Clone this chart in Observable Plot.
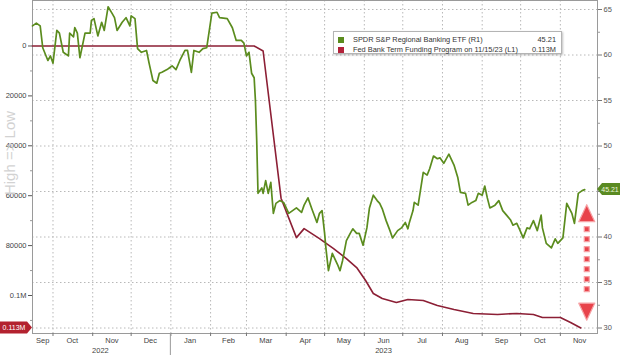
<!DOCTYPE html>
<html><head><meta charset="utf-8">
<script src="https://cdn.jsdelivr.net/npm/d3@7"></script>
<script src="https://cdn.jsdelivr.net/npm/@observablehq/plot@0.6"></script>
<style>
body{margin:0;background:#fff;}
#wrap{position:relative;width:620px;height:355px;font-family:"Liberation Sans",Arial,sans-serif;}
#legend{position:absolute;left:333px;top:31px;width:229px;height:23px;box-sizing:border-box;border:1px solid #b4b4b4;background:#fff;box-shadow:1px 1px 2px rgba(0,0,0,.25);font-size:7.4px;color:#333;}
.row{position:absolute;left:4px;right:5px;height:10px;line-height:10px;white-space:nowrap;}
.sw{position:absolute;left:0;top:2px;width:6px;height:6px;}
.lab{position:absolute;left:15px;}
.val{position:absolute;right:0;}
</style></head>
<body><div id="wrap"></div>
<script>
// ---- data ----
const kreDates = ["2022-09-15","2022-09-18","2022-09-21","2022-09-23","2022-09-27","2022-09-29","2022-10-01","2022-10-04","2022-10-06","2022-10-09","2022-10-13","2022-10-14","2022-10-17","2022-10-18","2022-10-20","2022-10-22","2022-10-26","2022-10-30","2022-10-31","2022-11-02","2022-11-05","2022-11-08","2022-11-10","2022-11-13","2022-11-16","2022-11-18","2022-11-20","2022-11-24","2022-11-27","2022-11-30","2022-12-01","2022-12-04","2022-12-06","2022-12-09","2022-12-13","2022-12-15","2022-12-18","2022-12-21","2022-12-23","2022-12-25","2022-12-29","2022-12-31","2023-01-02","2023-01-05","2023-01-08","2023-01-12","2023-01-14","2023-01-17","2023-01-19","2023-01-23","2023-01-26","2023-01-29","2023-02-02","2023-02-06","2023-02-08","2023-02-14","2023-02-18","2023-02-21","2023-02-25","2023-02-27","2023-03-01","2023-03-03","2023-03-05","2023-03-07","2023-03-08","2023-03-09","2023-03-10","2023-03-13","2023-03-14","2023-03-16","2023-03-18","2023-03-20","2023-03-22","2023-03-24","2023-03-27","2023-03-30","2023-04-03","2023-04-06","2023-04-09","2023-04-13","2023-04-15","2023-04-18","2023-04-21","2023-04-25","2023-04-27","2023-04-29","2023-05-01","2023-05-02","2023-05-04","2023-05-07","2023-05-11","2023-05-13","2023-05-15","2023-05-18","2023-05-21","2023-05-23","2023-05-26","2023-05-28","2023-05-31","2023-06-03","2023-06-05","2023-06-08","2023-06-11","2023-06-13","2023-06-15","2023-06-18","2023-06-21","2023-06-23","2023-06-27","2023-06-30","2023-07-03","2023-07-05","2023-07-06","2023-07-09","2023-07-10","2023-07-13","2023-07-17","2023-07-20","2023-07-22","2023-07-25","2023-07-28","2023-07-30","2023-08-02","2023-08-06","2023-08-10","2023-08-13","2023-08-15","2023-08-19","2023-08-21","2023-08-24","2023-08-27","2023-08-29","2023-09-01","2023-09-03","2023-09-05","2023-09-07","2023-09-11","2023-09-14","2023-09-17","2023-09-20","2023-09-23","2023-09-25","2023-09-28","2023-09-30","2023-10-03","2023-10-06","2023-10-08","2023-10-11","2023-10-14","2023-10-17","2023-10-18","2023-10-21","2023-10-25","2023-10-28","2023-10-30","2023-11-03","2023-11-06","2023-11-10","2023-11-12","2023-11-15","2023-11-18","2023-11-20"];
const kreValues = [63.2,63.5,63.2,60.8,59.4,59.9,59.1,62.7,62.4,60.3,59.9,62.4,62.0,63.0,62.4,59.7,62.4,62.4,63.8,64.0,62.1,63.6,62.7,65.3,64.6,64.1,62.7,63.6,64.1,63.2,64.3,64.0,60.7,60.3,60.5,59.1,57.2,56.9,58.0,58.1,58.4,58.6,58.8,58.4,59.4,60.5,60.5,58.1,60.5,60.3,60.7,60.8,64.6,64.7,64.1,64.0,63.0,61.6,61.6,61.3,59.9,60.3,58.0,57.5,55.0,50.6,44.8,45.4,44.8,46.2,44.8,46.0,42.6,43.7,44.0,43.8,42.6,42.9,43.2,42.7,43.5,44.3,43.1,41.6,42.6,42.9,40.4,38.8,36.3,38.2,37.0,36.3,37.4,39.6,40.4,40.9,40.4,40.4,39.1,41.0,43.2,44.6,44.0,43.7,43.1,41.8,40.7,39.9,40.7,41.0,41.6,40.9,41.5,42.9,43.8,43.5,47.1,46.8,47.5,48.9,48.6,48.7,48.1,49.1,47.9,46.5,44.9,44.8,43.5,43.8,44.0,44.8,44.6,45.6,44.3,43.2,43.5,44.0,42.9,42.4,41.9,41.3,41.5,40.9,39.9,41.0,40.9,41.8,40.7,42.4,41.0,39.3,38.8,39.8,39.3,39.9,43.7,42.6,41.5,44.8,45.1,45.21];

const btfpDates = ["2022-09-15","2023-03-07","2023-03-14","2023-03-28","2023-04-09","2023-04-15","2023-04-27","2023-05-08","2023-05-18","2023-05-26","2023-06-02","2023-06-08","2023-06-15","2023-06-26","2023-07-05","2023-07-17","2023-07-28","2023-08-10","2023-08-25","2023-09-13","2023-09-28","2023-10-11","2023-10-18","2023-11-01","2023-11-09","2023-11-17"];
const btfpValues = [0,0,2000,61000,76800,73200,77200,81200,85200,88800,94000,99200,101200,102800,101600,102000,104000,105600,107200,107600,107200,107600,108800,108800,110800,113000];

const rightTicks = [30,35,40,45,50,55,60,65];
const rightMinor = [32.5,37.5,42.5,47.5,52.5,57.5,62.5];
const leftTicks = [0,20000,40000,60000,80000,100000];
const leftTickLabels = ["0","20000","40000","60000","80000","0.1M"];
const leftMinor = [10000,30000,50000,70000,90000,110000];
const monthStarts = ["2022-10-01","2022-11-01","2022-12-01","2023-01-01","2023-02-01","2023-03-01","2023-04-01","2023-05-01","2023-06-01","2023-07-01","2023-08-01","2023-09-01","2023-10-01","2023-11-01"];
const monthLabelDates = ["2022-09-23","2022-10-16","2022-11-16","2022-12-16","2023-01-16","2023-02-15","2023-03-16","2023-04-16","2023-05-16","2023-06-16","2023-07-16","2023-08-16","2023-09-16","2023-10-16","2023-11-16"];
const monthLabels = ["Sep","Oct","Nov","Dec","Jan","Feb","Mar","Apr","May","Jun","Jul","Aug","Sep","Oct","Nov"];
const yearLabelDates = ["2022-11-07","2023-06-16"];
const yearLabels = ["2022","2023"];
const legendNames = ["SPDR S&P Regional Banking ETF (R1)","Fed Bank Term Funding Program on 11/15/23 (L1)"];
const legendValues = ["45.21","0.113M"];
const lastKre = 45.21, lastBtfp = 113000;
const arrowDate = "2023-11-22", arrowTop = 43.5, arrowBottom = 30.8;
const axisTitle = "High => Low";

const green = "#5b8c1e", maroon = "#8c1f35";
const D = s => new Date(s + "T00:00:00Z");

// left (inverted) axis mapped onto the right-hand price scale
const toR = d3.scaleLinear().domain([-18236, 115230]).range([65.99, 29.396]);

const kre = kreDates.map((d,i)=>({date:D(d), v:kreValues[i]}));
const btfp = btfpDates.map((d,i)=>({date:D(d), v:toR(btfpValues[i])}));
const leftLabelMap = new Map(leftTicks.map((v,i)=>[toR(v).toFixed(5), leftTickLabels[i]]));

const chart = Plot.plot({
  width:620, height:355, marginLeft:32, marginRight:23, marginTop:0, marginBottom:22,
  style:{fontFamily:"Liberation Sans, Arial, sans-serif", fontSize:"7.5px", color:"#444", background:"#fff", overflow:"visible"},
  x:{type:"utc", domain:[D("2022-09-15"), D("2023-11-30")]},
  y:{domain:[29.396, 65.99]},
  marks:[
    Plot.ruleX(monthStarts.map(D), {stroke:"#b8b8b8", strokeDasharray:"1.5,2.5", strokeWidth:1}),
    Plot.ruleY(rightTicks, {stroke:"#b8b8b8", strokeDasharray:"1.5,2.5", strokeWidth:1}),
    Plot.frame({stroke:"#9a9a9a"}),
    Plot.axisY(rightTicks, {anchor:"right", tickSize:4, tickPadding:2, stroke:"#777", fill:"#555", label:null, tickFormat:v=>v===lastKre-0.21?"":String(v)}),
    Plot.axisY(rightMinor, {anchor:"right", tickSize:2, tickFormat:()=>"", stroke:"#999", label:null}),
    Plot.axisY(leftTicks.map(toR), {anchor:"left", tickSize:4, tickPadding:2, stroke:"#555", fill:"#444", label:null, tickFormat:v=>leftLabelMap.get(v.toFixed(5))}),
    Plot.axisY(leftMinor.map(toR), {anchor:"left", tickSize:2, tickFormat:()=>"", stroke:"#999", label:null}),
    Plot.axisX(monthStarts.map(D), {tickSize:3, tickFormat:()=>"", stroke:"#777", label:null}),
    Plot.text(monthLabelDates.map(D), {x:d=>d, text:(d,i)=>monthLabels[i], frameAnchor:"bottom", dy:9, fill:"#444", fontSize:7.5}),
    Plot.text(yearLabelDates.map(D), {x:d=>d, text:(d,i)=>yearLabels[i], frameAnchor:"bottom", dy:19, fill:"#444", fontSize:7.5}),
    Plot.line(btfp, {x:"date", y:"v", stroke:maroon, strokeWidth:1.6}),
    Plot.line(kre, {x:"date", y:"v", stroke:green, strokeWidth:1.7, strokeLinejoin:"round"})
  ]
});

const wrap = document.getElementById("wrap");
wrap.appendChild(chart);

const svg = d3.select(chart);
const xs = chart.scale("x"), ys = chart.scale("y");
const H = 355, bottom = 355 - 22, right = 620 - 23;

// rotated axis title
svg.append("text").attr("transform","translate(15,153) rotate(-90)").attr("text-anchor","middle")
  .attr("font-size",15).attr("fill","#d2d2d2").attr("font-family","Liberation Sans, Arial, sans-serif").text(axisTitle);

// year separator
const xJan = xs.apply(D("2023-01-01"));
svg.append("line").attr("x1",xJan).attr("x2",xJan).attr("y1",bottom).attr("y2",H).attr("stroke","#999");

// right value tag
const yk = ys.apply(lastKre);
svg.append("polygon").attr("points",`${right},${yk} ${right+5},${yk-6} ${620},${yk-6} ${620},${yk+6} ${right+5},${yk+6}`).attr("fill","#5a8a22");
svg.append("text").attr("x",right+13).attr("y",yk+2.6).attr("text-anchor","middle").attr("font-size",7).attr("fill","#eef8dc").text(lastKre.toFixed(2));

// left value tag
const yb = ys.apply(toR(lastBtfp));
svg.append("polygon").attr("points",`0,${yb-6} 27,${yb-6} 32,${yb} 27,${yb+6} 0,${yb+6}`).attr("fill","#b3222f");
svg.append("text").attr("x",14).attr("y",yb+2.6).attr("text-anchor","middle").attr("font-size",7).attr("fill","#fff").text(legendValues[1]);

// red dashed double arrow
const ax = xs.apply(D(arrowDate)), yT = ys.apply(arrowTop), yB = ys.apply(arrowBottom);
const g = svg.append("g").attr("fill","#e8434b").attr("stroke","#f6a3a6").attr("stroke-width",1.2).attr("stroke-linejoin","round");
g.append("polygon").attr("points",`${ax},${yT} ${ax-8},${yT+17} ${ax+8},${yT+17}`);
g.append("polygon").attr("points",`${ax},${yB} ${ax-8},${yB-17} ${ax+8},${yB-17}`);
for (let y = yT + 22; y <= yB - 24; y += 10) {
  g.append("rect").attr("x",ax-2.5).attr("y",y).attr("width",5).attr("height",5);
}

// legend
const leg = document.createElement("div");
leg.id = "legend";
const cols = [green, "#b3223a"];
legendNames.forEach((n,i)=>{
  const r = document.createElement("div");
  r.className = "row"; r.style.top = (3 + i*10) + "px";
  r.innerHTML = `<span class="sw" style="background:${cols[i]}"></span><span class="lab"></span><span class="val"></span>`;
  r.querySelector(".lab").textContent = n;
  r.querySelector(".val").textContent = legendValues[i];
  leg.appendChild(r);
});
wrap.appendChild(leg);
</script>
</body></html>
